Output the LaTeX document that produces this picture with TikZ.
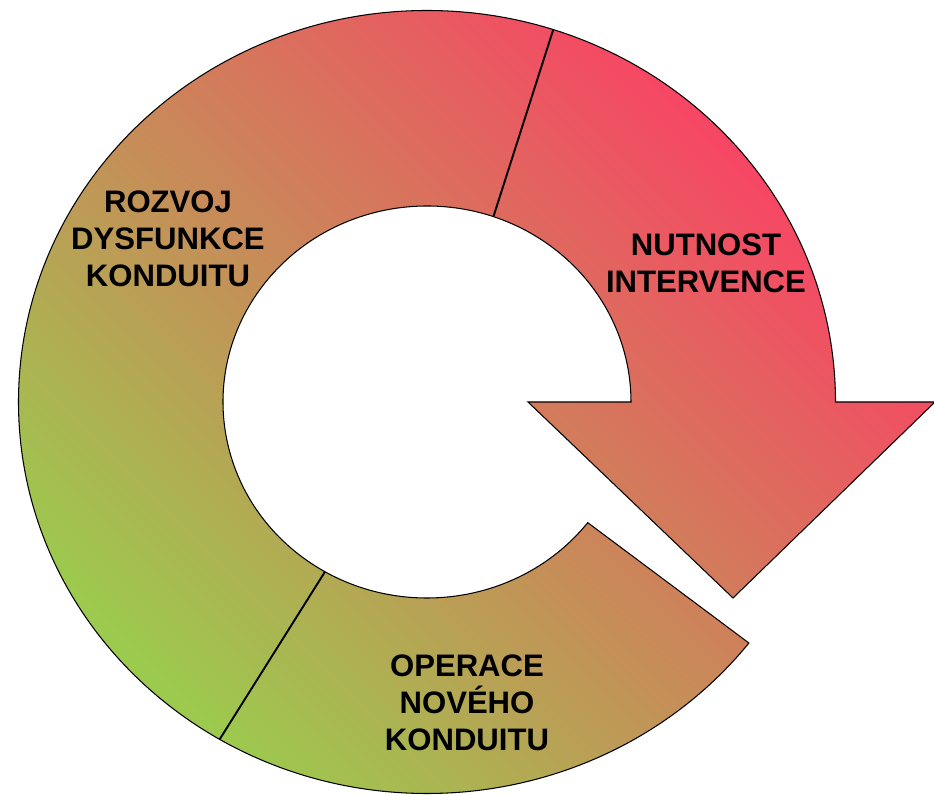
\documentclass[tikz,border=0pt]{standalone}
\usepackage{fontspec}
\setmainfont{Liberation Sans}
\usetikzlibrary{calc}
\definecolor{cycgreen}{RGB}{156,202,78}
\definecolor{cyctan}{RGB}{216,142,92}
\definecolor{cycpink}{RGB}{254,60,102}
\tikzset{label/.style={inner sep=0,outer sep=0,align=center,
        font=\bfseries\fontsize{17.7}{21}\selectfont}}
\tikzset{divider/.style={line width=1.1pt}}

\begin{document}
\begin{tikzpicture}[x=0.02cm,y=0.02cm]
\useasboundingbox (0,0) rectangle (934,795);
% centre of the ring
\coordinate (C) at (427,393);
% arrow body and head
\shade[draw=black,line width=0.6pt,bottom color=cycgreen,middle color=cyctan,top color=cycpink,shading angle=-45]
    ($(C)+(204,0)$) -- (528,393) -- (733,197) -- (935,393) -- ($(C)+(408.5,0)$)
    arc[start angle=0,end angle=322,x radius=408.5,y radius=391.5]
    -- ($(C)+({204*cos(322)},{196*sin(322)})$)
    arc[start angle=322,end angle=0,x radius=204,y radius=196] -- cycle;
% dividers
\coordinate (in1) at ($(C)+({204*cos(71)},{196*sin(71)})$);
\coordinate (out1) at ($(C)+({408.5*cos(72)},{391.5*sin(72)})$);
\coordinate (in2) at ($(C)+({204*cos(240)},{196*sin(240)})$);
\coordinate (out2) at ($(C)+({408.5*cos(239.5)},{391.5*sin(239.5)})$);
\draw[divider] (in1) -- (out1);
\draw[divider] (in2) -- (out2);
% labels
\node[label] (rozvoj) at (168,556) {ROZVOJ\\DYSFUNKCE\\KONDUITU};
\node[label] (nutnost) at (706,532) {NUTNOST\\INTERVENCE};
\node[label] (operace) at (467,92) {OPERACE\\NOVÉHO\\KONDUITU};
\end{tikzpicture}
\end{document}
